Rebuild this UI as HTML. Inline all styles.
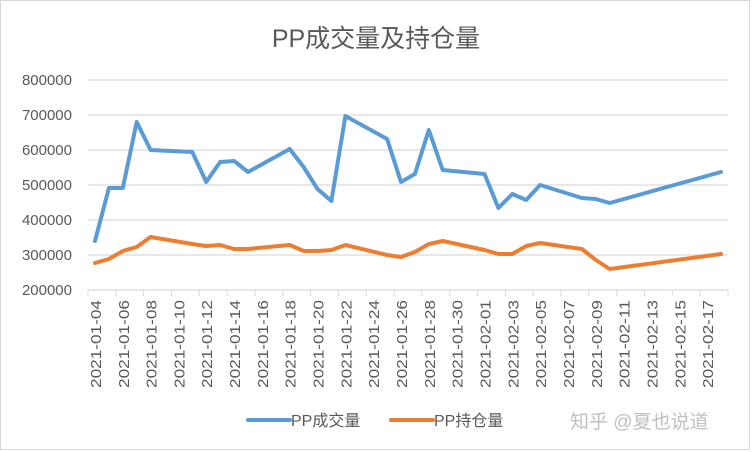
<!DOCTYPE html>
<html><head><meta charset="utf-8"><style>
body{margin:0;background:#fff}
svg{display:block}
text{font-family:"Liberation Sans","Noto Sans CJK SC",sans-serif;fill:#595959}
</style></head><body>
<svg width="752" height="452" viewBox="0 0 752 452" xmlns="http://www.w3.org/2000/svg">
<rect x="0.5" y="0.5" width="749" height="449" fill="#fff" stroke="#d9d9d9"/>
<text x="376" y="47" font-size="25" text-anchor="middle">PP成交量及持仓量</text>
<g stroke="#d9d9d9" stroke-width="1.3">
<line x1="88" y1="80" x2="728" y2="80"/>
<line x1="88" y1="115" x2="728" y2="115"/>
<line x1="88" y1="150" x2="728" y2="150"/>
<line x1="88" y1="185" x2="728" y2="185"/>
<line x1="88" y1="220" x2="728" y2="220"/>
<line x1="88" y1="255" x2="728" y2="255"/>
<line x1="88" y1="290" x2="728" y2="290"/>
</g>
<g font-size="15" text-anchor="end">
<text x="72" y="85">800000</text>
<text x="72" y="120">700000</text>
<text x="72" y="155">600000</text>
<text x="72" y="190">500000</text>
<text x="72" y="225">400000</text>
<text x="72" y="260">300000</text>
<text x="72" y="295">200000</text>
</g>
<g stroke="#d9d9d9" stroke-width="1">
<path d="M88 290V296M115.8 290V296M143.6 290V296M171.5 290V296M199.3 290V296M227.1 290V296M255 290V296M282.8 290V296M310.6 290V296M338.4 290V296M366.2 290V296M394.1 290V296M421.9 290V296M449.7 290V296M477.5 290V296M505.4 290V296M533.2 290V296M561 290V296M588.8 290V296M616.7 290V296M644.5 290V296M672.3 290V296M700.1 290V296M728 290V296"/>
</g>
<g font-size="15" text-anchor="end">
<text transform="translate(101,300) rotate(-90)" textLength="88" lengthAdjust="spacingAndGlyphs">2021-01-04</text>
<text transform="translate(128.8,300) rotate(-90)" textLength="88" lengthAdjust="spacingAndGlyphs">2021-01-06</text>
<text transform="translate(156.6,300) rotate(-90)" textLength="88" lengthAdjust="spacingAndGlyphs">2021-01-08</text>
<text transform="translate(184.5,300) rotate(-90)" textLength="88" lengthAdjust="spacingAndGlyphs">2021-01-10</text>
<text transform="translate(212.2,300) rotate(-90)" textLength="88" lengthAdjust="spacingAndGlyphs">2021-01-12</text>
<text transform="translate(240.1,300) rotate(-90)" textLength="88" lengthAdjust="spacingAndGlyphs">2021-01-14</text>
<text transform="translate(267.9,300) rotate(-90)" textLength="88" lengthAdjust="spacingAndGlyphs">2021-01-16</text>
<text transform="translate(295.7,300) rotate(-90)" textLength="88" lengthAdjust="spacingAndGlyphs">2021-01-18</text>
<text transform="translate(323.5,300) rotate(-90)" textLength="88" lengthAdjust="spacingAndGlyphs">2021-01-20</text>
<text transform="translate(351.4,300) rotate(-90)" textLength="88" lengthAdjust="spacingAndGlyphs">2021-01-22</text>
<text transform="translate(379.2,300) rotate(-90)" textLength="88" lengthAdjust="spacingAndGlyphs">2021-01-24</text>
<text transform="translate(407,300) rotate(-90)" textLength="88" lengthAdjust="spacingAndGlyphs">2021-01-26</text>
<text transform="translate(434.8,300) rotate(-90)" textLength="88" lengthAdjust="spacingAndGlyphs">2021-01-28</text>
<text transform="translate(462.7,300) rotate(-90)" textLength="88" lengthAdjust="spacingAndGlyphs">2021-01-30</text>
<text transform="translate(490.5,300) rotate(-90)" textLength="88" lengthAdjust="spacingAndGlyphs">2021-02-01</text>
<text transform="translate(518.3,300) rotate(-90)" textLength="88" lengthAdjust="spacingAndGlyphs">2021-02-03</text>
<text transform="translate(546.1,300) rotate(-90)" textLength="88" lengthAdjust="spacingAndGlyphs">2021-02-05</text>
<text transform="translate(574,300) rotate(-90)" textLength="88" lengthAdjust="spacingAndGlyphs">2021-02-07</text>
<text transform="translate(601.8,300) rotate(-90)" textLength="88" lengthAdjust="spacingAndGlyphs">2021-02-09</text>
<text transform="translate(629.6,300) rotate(-90)" textLength="88" lengthAdjust="spacingAndGlyphs">2021-02-11</text>
<text transform="translate(657.5,300) rotate(-90)" textLength="88" lengthAdjust="spacingAndGlyphs">2021-02-13</text>
<text transform="translate(685.3,300) rotate(-90)" textLength="88" lengthAdjust="spacingAndGlyphs">2021-02-15</text>
<text transform="translate(713.1,300) rotate(-90)" textLength="88" lengthAdjust="spacingAndGlyphs">2021-02-17</text>
</g>
<polyline fill="none" stroke="#5b9bd5" stroke-width="4" stroke-linejoin="round" stroke-linecap="round"
points="95,241 108.9,188 122.8,188 136.7,122 150.6,150 192.3,152 206.2,182 220.1,162 234.1,161 248,172 289.7,149 303.6,167 317.5,189 331.4,201 345.4,116 387.1,139 401,182 414.9,174 428.8,130 442.7,170 484.5,174 498.4,208 512.3,194 526.2,200 540.1,185 581.9,198 595.8,199 609.7,203 721,172"/>
<polyline fill="none" stroke="#ed7d31" stroke-width="4" stroke-linejoin="round" stroke-linecap="round"
points="95,263 108.9,259 122.8,251 136.7,247 150.6,237 192.3,244 206.2,246 220.1,245 234.1,249 248,249 289.7,245 303.6,251 317.5,251 331.4,250 345.4,245 387.1,255 401,257 414.9,252 428.8,244 442.7,241 484.5,250 498.4,254 512.3,254 526.2,246 540.1,243 581.9,249 595.8,260 609.7,269 721,254"/>
<line x1="248" y1="420" x2="290" y2="420" stroke="#5b9bd5" stroke-width="4" stroke-linecap="round"/>
<text x="291" y="426" font-size="16">PP成交量</text>
<line x1="391" y1="420" x2="433" y2="420" stroke="#ed7d31" stroke-width="4" stroke-linecap="round"/>
<text x="434" y="426" font-size="16">PP持仓量</text>
<text x="570" y="428" font-size="19" style="fill:#c0c0c0">知乎 @夏也说道</text>
</svg>
</body></html>
